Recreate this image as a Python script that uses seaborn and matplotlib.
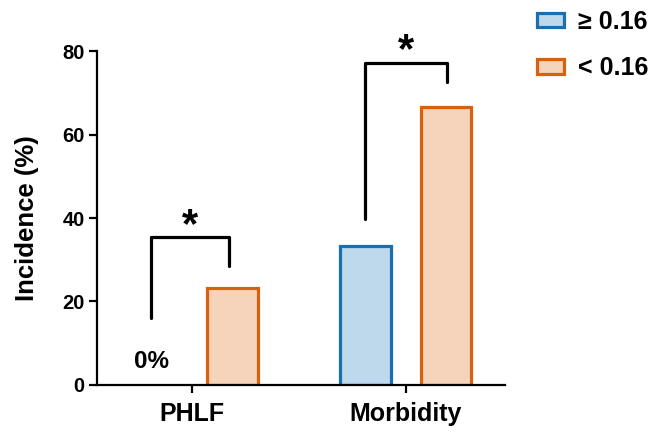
import matplotlib
matplotlib.use("Agg")
import matplotlib.pyplot as plt
import seaborn as sns
import pandas as pd
from matplotlib.patches import Patch

categories = ["PHLF", "Morbidity"]
groups = ["≥ 0.16", "< 0.16"]
values_ge = [0.0, 33.3]
values_lt = [23.3, 66.7]
yticks = [0, 20, 40, 60, 80]

fill_colors = {"≥ 0.16": "#bfd9ec", "< 0.16": "#f6d4bb"}
edge_colors = {"≥ 0.16": "#1b6fb0", "< 0.16": "#d9600f"}

df = pd.DataFrame({
    "cat": categories * 2,
    "group": [groups[0]] * 2 + [groups[1]] * 2,
    "val": values_ge + values_lt,
})

sns.set_style("white")
plt.rcParams["font.family"] = ["Liberation Sans", "DejaVu Sans"]
plt.rcParams["font.weight"] = "bold"
for k in ["text.color", "axes.labelcolor", "xtick.color", "ytick.color", "axes.edgecolor"]:
    plt.rcParams[k] = "black"

fig = plt.figure(figsize=(6.49, 4.33), dpi=100)
ax = fig.add_axes([0.1495, 0.111, 0.6285, 0.771])

sns.barplot(data=df, x="cat", y="val", hue="group", order=categories,
            hue_order=groups, palette=fill_colors, saturation=1, width=0.75, gap=0.365,
            ax=ax, legend=False, errorbar=None)

for cont, g in zip(ax.containers, groups):
    for bar in cont:
        bar.set_edgecolor(edge_colors[g])
        bar.set_linewidth(2.3)
        if bar.get_height() == 0:
            bar.set_visible(False)

ax.set_xlim(-0.444, 1.463)
ax.set_ylim(0, 80)
ax.set_yticks(yticks)
ax.set_xlabel("")
ax.set_ylabel("Incidence (%)", fontsize=18.5, fontweight="bold", labelpad=17)
for s in ["top", "right"]:
    ax.spines[s].set_visible(False)
for s in ["left", "bottom"]:
    ax.spines[s].set_linewidth(1.6)
    ax.spines[s].set_color("black")
ax.tick_params(axis="both", direction="out", length=6, width=1.6, color="black",
               left=True, bottom=True, labelcolor="black")
ax.tick_params(axis="y", labelsize=14.5, pad=3)
ax.tick_params(axis="x", labelsize=18, pad=6)
for lbl in ax.get_xticklabels() + ax.get_yticklabels():
    lbl.set_fontweight("bold")

lw = 2.3
ax.plot([-0.19, -0.19, 0.173, 0.173], [16, 35.4, 35.4, 28.5], color="black",
        lw=lw, clip_on=False, solid_capstyle="round")
ax.text(-0.01, 35.5, "*", ha="center", va="baseline", fontsize=30, fontweight="bold")
ax.plot([0.81, 0.81, 1.19, 1.19], [39.8, 77.1, 77.1, 72.6], color="black",
        lw=lw, clip_on=False, solid_capstyle="round")
ax.text(1.0, 77.3, "*", ha="center", va="baseline", fontsize=30,
        fontweight="bold", clip_on=False)

ax.text(-0.187, 4.1, "0%", ha="center", va="baseline", fontsize=17.5, fontweight="bold")

handles = [Patch(facecolor=fill_colors[g], edgecolor=edge_colors[g], linewidth=2.3, label=g)
           for g in groups]
leg = fig.legend(handles=handles, loc="upper left", bbox_to_anchor=(0.828, 0.977),
                 frameon=False, prop={"size": 18, "weight": "bold"},
                 borderpad=0, borderaxespad=0,
                 handlelength=1.05, handleheight=0.52, labelspacing=0.9, handletextpad=0.56)

fig.savefig("out.png", dpi=100)
